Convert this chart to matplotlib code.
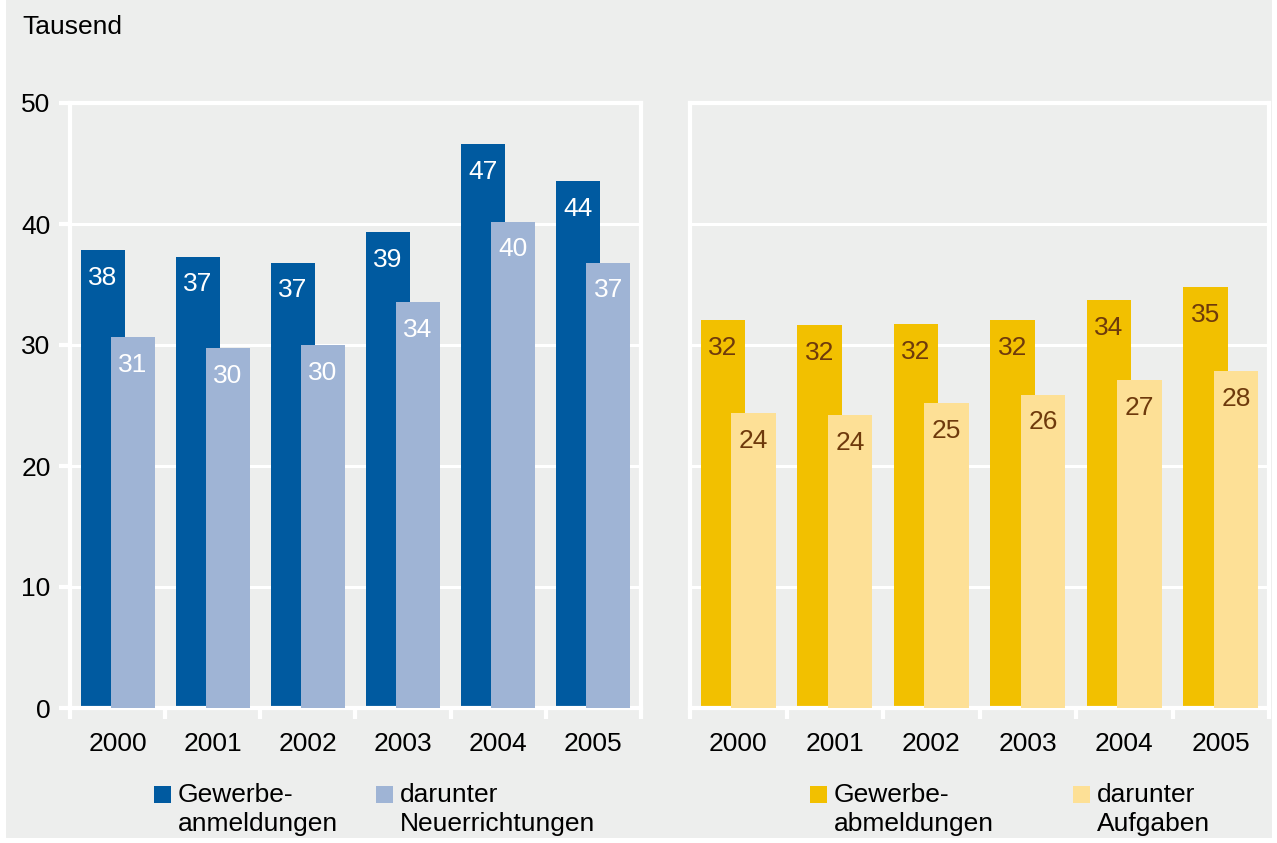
import matplotlib
matplotlib.use("Agg")
import matplotlib.pyplot as plt
import numpy as np
from matplotlib.patches import Rectangle

# data (Tausend)
years = ["2000", "2001", "2002", "2003", "2004", "2005"]
anmeldungen = [37.85, 37.3, 36.8, 39.3, 46.6, 43.55]
neuerrichtungen = [30.65, 29.75, 30.0, 33.55, 40.2, 36.8]
abmeldungen = [32.05, 31.65, 31.7, 32.05, 33.7, 34.8]
aufgaben = [24.4, 24.2, 25.2, 25.9, 27.1, 27.85]

yticks = [0, 10, 20, 30, 40, 50]

c_blue = "#005aa0"
c_lblue = "#9fb4d5"
c_gold = "#f2c000"
c_lgold = "#fde096"
c_bg = "#edeeed"
c_brown = "#6e3a0c"

plt.rcParams['font.family'] = ['Liberation Sans', 'DejaVu Sans']
fs = 19

fig = plt.figure(figsize=(12.77, 8.43), dpi=100, facecolor='white')
fig.patches.append(Rectangle((6/1277, 0.006), 1266/1277, 0.994, transform=fig.transFigure,
                             facecolor=c_bg, edgecolor='none', zorder=-10))

ax1 = fig.add_axes([70/1277, 1-708/843, 571/1277, 605/843])
ax2 = fig.add_axes([690/1277, 1-708/843, 579/1277, 605/843])

x = np.arange(len(years))
off = 0.157
w = 0.462


def panel(ax, v1, v2, col1, col2, lab_col, show_y):
    ax.set_facecolor(c_bg)
    b1 = ax.bar(x - off, v1, w, color=col1, zorder=2)
    b2 = ax.bar(x + off, v2, w, color=col2, zorder=3)
    for bars, vals in ((b1, v1), (b2, v2)):
        for r, v in zip(bars, vals):
            ax.annotate("%d" % round(v), (r.get_x() + r.get_width()/2, r.get_height()),
                        xytext=(0, -20), textcoords='offset points', ha='center', va='center',
                        color=lab_col, fontsize=fs, zorder=4)
    ax.set_xlim(-0.5, len(years) - 0.5)
    ax.set_ylim(0, 50)
    ax.set_yticks(yticks)
    ax.yaxis.grid(True, color='white', lw=2.2, zorder=0)
    ax.set_axisbelow(True)
    for s in ax.spines.values():
        s.set_color('white')
        s.set_linewidth(3)
    ax.set_xticks(x)
    ax.set_xticklabels(years, fontsize=fs)
    ax.set_xticks(np.arange(len(years) + 1) - 0.5, minor=True)
    ax.tick_params(axis='x', which='major', length=0, pad=17)
    ax.tick_params(axis='x', which='minor', length=8, width=3, color='white')
    if show_y:
        ax.tick_params(axis='y', length=8, width=3, color='white', labelsize=fs, pad=6)
    else:
        ax.tick_params(axis='y', length=0, labelleft=False)
    return b1, b2


panel(ax1, anmeldungen, neuerrichtungen, c_blue, c_lblue, 'white', True)
panel(ax2, abmeldungen, aufgaben, c_gold, c_lgold, c_brown, False)

fig.text(22/1277, 1-27/843, "Tausend", fontsize=fs, ha='left', va='center')

# legend, drawn by hand so the square sits on the first line
legend = [
    (154, c_blue, "Gewerbe-\nanmeldungen"),
    (376, c_lblue, "darunter\nNeuerrichtungen"),
    (810, c_gold, "Gewerbe-\nabmeldungen"),
    (1073, c_lgold, "darunter\nAufgaben"),
]
for px, col, txt in legend:
    fig.patches.append(Rectangle((px/1277, 1-803/843), 17/1277, 17/843,
                                 transform=fig.transFigure, facecolor=col, edgecolor='none'))
    fig.text((px + 24)/1277, 1-783/843, txt, fontsize=fs, ha='left', va='top', linespacing=1.28)

fig.savefig("out.png", dpi=100, facecolor=fig.get_facecolor())
